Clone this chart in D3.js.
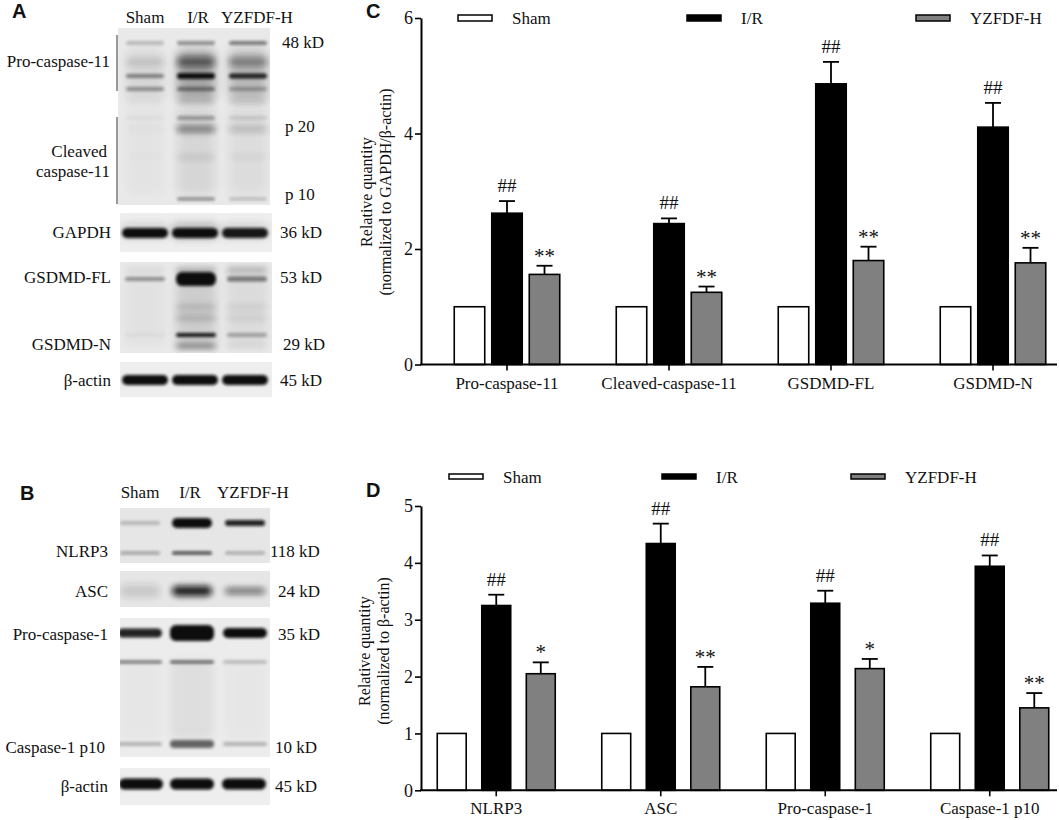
<!doctype html>
<html>
<head>
<meta charset="utf-8">
<title>Caspase-11 / NLRP3 western blots</title>
<script src="https://cdn.jsdelivr.net/npm/d3@7/dist/d3.min.js"></script>
<style>
	body { margin: 0; background: #fff; }
	svg text { font-family: "Liberation Serif", "Times New Roman", serif; fill: #111; }
	.panel { font-family: "Liberation Sans", Arial, sans-serif !important; font-weight: bold; font-size: 20px; }
</style>
</head>
<body>
<script>
	// ---- chart data ----
	var groups = ['Sham', 'I/R', 'YZFDF-H'];
	var groupFill = ['#ffffff', '#000000', '#808080'];

	var catsC = ['Pro-caspase-11', 'Cleaved-caspase-11', 'GSDMD-FL', 'GSDMD-N'];
	var shamC = [1, 1, 1, 1];
	var irC = [2.62, 2.44, 4.86, 4.11];
	var irErrC = [0.21, 0.09, 0.38, 0.42];
	var yzC = [1.56, 1.25, 1.80, 1.76];
	var yzErrC = [0.15, 0.10, 0.24, 0.26];
	var sigIrC = ['##', '##', '##', '##'];
	var sigYzC = ['**', '**', '**', '**'];
	var ticksC = [0, 2, 4, 6];

	var catsD = ['NLRP3', 'ASC', 'Pro-caspase-1', 'Caspase-1 p10'];
	var shamD = [1, 1, 1, 1];
	var irD = [3.25, 4.34, 3.29, 3.94];
	var irErrD = [0.19, 0.35, 0.22, 0.19];
	var yzD = [2.05, 1.82, 2.14, 1.45];
	var yzErrD = [0.20, 0.35, 0.17, 0.26];
	var sigIrD = ['##', '##', '##', '##'];
	var sigYzD = ['*', '**', '*', '**'];
	var ticksD = [0, 1, 2, 3, 4, 5];

	var svg = d3.select('body').append('svg')
		.attr('width', 1059)
		.attr('height', 820);

	var defs = svg.append('defs');
	[1, 1.8, 3, 5].forEach(function (s, i) {
		defs.append('filter').attr('id', 'blur' + i)
			.attr('x', '-50%').attr('y', '-200%').attr('width', '200%').attr('height', '500%')
			.append('feGaussianBlur').attr('stdDeviation', s);
	});

	// ---- western blot panels (drawn approximations) ----
	// band: y centre, h height (one value or per lane), v intensity per lane, b blur level
	var blots = [
		{ x: 118, y: 28, w: 152, h: 177, bg: '#e9e9e9', lanes: [145, 196, 248], lw: 38, bands: [
			{ y: 75, h: 50, v: [0.08, 0.3, 0.22], b: 3 },
			{ y: 150, h: 90, v: [0.02, 0.08, 0.05], b: 3 },
			{ y: 43, h: 4, v: [0.22, 0.4, 0.5], b: 1 },
			{ y: 62, h: [5, 10, 8], v: [0.15, 0.55, 0.4], b: 2 },
			{ y: 76, h: [4, 6, 5], v: [0.45, 1, 0.9], b: 1 },
			{ y: 89, h: 4, v: [0.38, 0.45, 0.28], b: 1 },
			{ y: 101, h: 4, v: [0.04, 0.2, 0.15], b: 2 },
			{ y: 118, h: 4, v: [0.03, 0.35, 0.12], b: 1 },
			{ y: 129, h: 6, v: [0.02, 0.55, 0.2], b: 2 },
			{ y: 157, h: 4, v: [0.02, 0.12, 0.06], b: 2 },
			{ y: 199, h: 3, v: [0, 0.45, 0.22], b: 1 }
		] },
		{ x: 120, y: 213, w: 152, h: 39, bg: '#eeeeee', lanes: [145, 195, 245], lw: 46, bands: [
			{ y: 231, h: 14, v: [0.15, 0.3, 0.15], b: 3 },
			{ y: 233, h: 10, v: [1, 1, 0.95], b: 1 }
		] },
		{ x: 120, y: 262, w: 152, h: 91, bg: '#e9e9e9', lanes: [145, 196, 247], lw: 40, bands: [
			{ y: 310, h: 70, v: [0.03, 0.12, 0.06], b: 3 },
			{ y: 270, h: 5, v: [0.08, 0.3, 0.3], b: 2 },
			{ y: 279, h: [4, 14, 5], v: [0.4, 1, 0.5], b: 1 },
			{ y: 307, h: 4, v: [0, 0.2, 0.1], b: 2 },
			{ y: 318, h: 4, v: [0, 0.25, 0.1], b: 2 },
			{ y: 335, h: 4, v: [0.03, 0.95, 0.3], b: 1 },
			{ y: 346, h: 5, v: [0, 0.5, 0.08], b: 2 }
		] },
		{ x: 120, y: 362, w: 152, h: 35, bg: '#eeeeee', lanes: [145, 195, 245], lw: 46, bands: [
			{ y: 380, h: 10, v: [1, 1, 1], b: 1 }
		] },
		{ x: 120, y: 508, w: 150, h: 55, bg: '#e6e6e6', lanes: [140, 192, 245], lw: 40, bands: [
			{ y: 523, h: [4, 10, 6], v: [0.22, 1, 0.9], b: 1 },
			{ y: 553, h: 3, v: [0.35, 0.8, 0.3], b: 1 }
		] },
		{ x: 120, y: 571, w: 150, h: 36, bg: '#e6e6e6', lanes: [140, 192, 245], lw: 40, bands: [
			{ y: 591, h: [14, 10, 6], v: [0.12, 0.95, 0.6], b: 2 }
		] },
		{ x: 120, y: 618, w: 150, h: 139, bg: '#ececec', lanes: [140, 192, 245], lw: 44, bands: [
			{ y: 700, h: 80, v: [0.02, 0.06, 0.02], b: 3 },
			{ y: 633, h: [9, 16, 10], v: [0.9, 1, 1], b: 1 },
			{ y: 662, h: 3, v: [0.55, 0.65, 0.25], b: 1 },
			{ y: 744, h: [4, 8, 4], v: [0.25, 0.6, 0.25], b: 1 }
		] },
		{ x: 120, y: 768, w: 150, h: 37, bg: '#eeeeee', lanes: [141, 192, 244], lw: 44, bands: [
			{ y: 784, h: 11, v: [1, 1, 1], b: 1 }
		] }
	];

	blots.forEach(function (bl, bi) {
		defs.append('clipPath').attr('id', 'clip' + bi)
			.append('rect').attr('x', bl.x).attr('y', bl.y).attr('width', bl.w).attr('height', bl.h);
		var g = svg.append('g').attr('clip-path', 'url(#clip' + bi + ')');
		g.append('rect').attr('x', bl.x).attr('y', bl.y).attr('width', bl.w).attr('height', bl.h)
			.attr('fill', bl.bg);
		bl.bands.forEach(function (bd) {
			bl.lanes.forEach(function (cx, li) {
				var h = Array.isArray(bd.h) ? bd.h[li] : bd.h;
				if (bd.v[li] <= 0) return;
				g.append('rect')
					.attr('x', cx - bl.lw / 2)
					.attr('y', bd.y - h / 2)
					.attr('width', bl.lw)
					.attr('height', h)
					.attr('rx', Math.min(h / 2, 6))
					.attr('fill', '#0a0a0a')
					.attr('opacity', bd.v[li])
					.attr('filter', 'url(#blur' + bd.b + ')');
			});
		});
	});

	function label(x, y, t, anchor) {
		svg.append('text').attr('x', x).attr('y', y).attr('text-anchor', anchor || 'start')
			.style('font-size', '17px').text(t);
	}

	// panel A text
	svg.append('text').attr('class', 'panel').attr('x', 12).attr('y', 18).text('A');
	label(145, 23, 'Sham', 'middle');
	label(198, 23, 'I/R', 'middle');
	label(257, 23, 'YZFDF-H', 'middle');
	svg.append('line').attr('x1', 117).attr('x2', 117).attr('y1', 35).attr('y2', 91).attr('stroke', '#333').attr('stroke-width', 1);
	svg.append('line').attr('x1', 117).attr('x2', 117).attr('y1', 117).attr('y2', 204).attr('stroke', '#333').attr('stroke-width', 1);
	label(110, 67, 'Pro-caspase-11', 'end');
	label(107, 157, 'Cleaved', 'end');
	label(110, 177, 'caspase-11', 'end');
	label(282, 48, '48 kD');
	label(285, 132, 'p 20');
	label(285, 200, 'p 10');
	label(111, 238, 'GAPDH', 'end');
	label(280, 238, '36 kD');
	label(111, 283, 'GSDMD-FL', 'end');
	label(280, 283, '53 kD');
	label(111, 350, 'GSDMD-N', 'end');
	label(283, 350, '29 kD');
	label(111, 386, 'β-actin', 'end');
	label(280, 386, '45 kD');

	// panel B text
	svg.append('text').attr('class', 'panel').attr('x', 20).attr('y', 500).text('B');
	label(140, 498, 'Sham', 'middle');
	label(190, 498, 'I/R', 'middle');
	label(253, 498, 'YZFDF-H', 'middle');
	label(108, 557, 'NLRP3', 'end');
	label(270, 557, '118 kD');
	label(108, 597, 'ASC', 'end');
	label(278, 597, '24 kD');
	label(108, 640, 'Pro-caspase-1', 'end');
	label(278, 640, '35 kD');
	label(105, 753, 'Caspase-1 p10', 'end');
	label(275, 753, '10 kD');
	label(108, 792, 'β-actin', 'end');
	label(275, 792, '45 kD');

	// ---- bar charts ----
	function barChart(o) {
		var y = d3.scaleLinear().domain([0, o.ymax]).range([o.y0, o.y1]);
		var x = d3.scaleBand().domain(o.cats).range([o.bx, o.bx + o.step * 4]);
		var xi = d3.scaleBand().domain(groups).range([-o.inner, o.inner]).paddingInner(o.pad);
		var g = svg.append('g');

		var series = [o.sham, o.ir, o.yz];
		var errs = [null, o.irErr, o.yzErr];
		var sigs = [null, o.sigIr, o.sigYz];

		groups.forEach(function (grp, gi) {
			var sel = g.append('g').selectAll('g').data(o.cats).enter().append('g')
				.attr('transform', function (d) { return 'translate(' + (x(d) + x.bandwidth() / 2) + ',0)'; });
			sel.append('rect')
				.attr('x', xi(grp))
				.attr('y', function (d, i) { return y(series[gi][i]); })
				.attr('width', xi.bandwidth())
				.attr('height', function (d, i) { return y(0) - y(series[gi][i]); })
				.attr('fill', groupFill[gi])
				.attr('stroke', '#000')
				.attr('stroke-width', 1.6);
			if (errs[gi]) {
				var cx = xi(grp) + xi.bandwidth() / 2;
				sel.append('line')
					.attr('x1', cx).attr('x2', cx)
					.attr('y1', function (d, i) { return y(series[gi][i]); })
					.attr('y2', function (d, i) { return y(series[gi][i] + errs[gi][i]); })
					.attr('stroke', '#000').attr('stroke-width', 1.8);
				sel.append('line')
					.attr('x1', cx - 8).attr('x2', cx + 8)
					.attr('y1', function (d, i) { return y(series[gi][i] + errs[gi][i]); })
					.attr('y2', function (d, i) { return y(series[gi][i] + errs[gi][i]); })
					.attr('stroke', '#000').attr('stroke-width', 1.8);
				sel.append('text')
					.attr('x', cx)
					.attr('y', function (d, i) {
						var top = y(series[gi][i] + errs[gi][i]);
						return sigs[gi][i].charAt(0) === '#' ? top - 9 : top - 3;
					})
					.attr('text-anchor', 'middle')
					.style('font-size', function (d, i) { return sigs[gi][i].charAt(0) === '#' ? '19px' : '21px'; })
					.text(function (d, i) { return sigs[gi][i]; });
			}
		});

		var ya = g.append('g').attr('transform', 'translate(' + o.ax + ',0)')
			.call(d3.axisLeft(y).tickValues(o.ticks).tickSize(6).tickSizeOuter(0).tickPadding(2).tickFormat(d3.format('d')));
		ya.select('.domain').attr('stroke-width', 2);
		ya.selectAll('.tick line').attr('stroke-width', 1.6);
		ya.selectAll('text').style('font-size', '18px').attr('font-family', null);

		var xa = g.append('g').attr('transform', 'translate(0,' + o.y0 + ')')
			.call(d3.axisBottom(x).tickSize(6).tickPadding(6));
		xa.select('.domain').remove();
		xa.selectAll('.tick line').attr('stroke-width', 1.6);
		xa.selectAll('text').style('font-size', '17px').attr('font-family', null);
		g.append('line').attr('x1', o.ax - 1).attr('x2', 1057).attr('y1', o.y0).attr('y2', o.y0)
			.attr('stroke', '#000').attr('stroke-width', 2);

		var t = g.append('text').attr('transform', 'translate(' + o.tx + ',' + o.ty + ') rotate(-90)')
			.attr('text-anchor', 'middle').style('font-size', '16px');
		t.append('tspan').attr('x', 0).attr('dy', 0).text('Relative quantity');
		t.append('tspan').attr('x', 0).attr('dy', '1.2em').text(o.title);

		// legend
		groups.forEach(function (grp, gi) {
			g.append('rect').attr('x', o.legX[gi]).attr('y', o.legY).attr('width', 34).attr('height', o.legH)
				.attr('fill', groupFill[gi]).attr('stroke', '#000').attr('stroke-width', 1.5);
			g.append('text').attr('x', o.legX[gi] + 54).attr('y', o.legY + o.legH / 2 + 6)
				.style('font-size', '17px').text(grp);
		});

		svg.append('text').attr('class', 'panel').attr('x', o.px).attr('y', o.py).text(o.letter);
	}

	barChart({
		cats: catsC, sham: shamC, ir: irC, irErr: irErrC, yz: yzC, yzErr: yzErrC,
		sigIr: sigIrC, sigYz: sigYzC, ticks: ticksC, ymax: 6,
		y0: 364.5, y1: 18, ax: 421, bx: 426, step: 162, inner: 52.75, pad: 0.187,
		tx: 372, ty: 192, title: '(normalized to GAPDH/β-actin)',
		legX: [458, 687, 916], legY: 15, legH: 6,
		letter: 'C', px: 366, py: 18
	});

	barChart({
		cats: catsD, sham: shamD, ir: irD, irErr: irErrD, yz: yzD, yzErr: yzErrD,
		sigIr: sigIrD, sigYz: sigYzD, ticks: ticksD, ymax: 5,
		y0: 790.3, y1: 506, ax: 421, bx: 414, step: 164.5, inner: 59, pad: 0.35,
		tx: 370, ty: 651, title: '(normalized to β-actin)',
		legX: [449, 662, 851], legY: 474, legH: 5,
		letter: 'D', px: 366, py: 497
	});
</script>
</body>
</html>
